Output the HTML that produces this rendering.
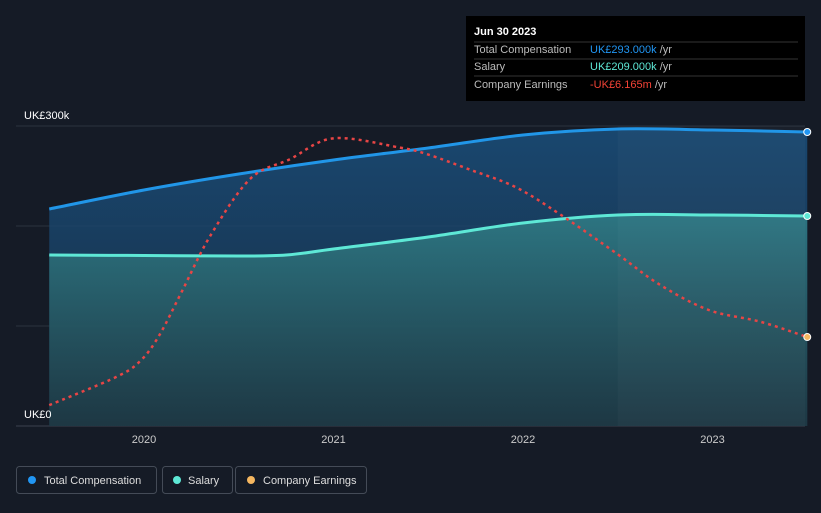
<!DOCTYPE html>
<html><head><meta charset="utf-8"><style>
body{margin:0;background:#151b26;font-family:"Liberation Sans",sans-serif;}
svg text{font-family:"Liberation Sans",sans-serif;}
</style></head><body>
<svg width="821" height="508" viewBox="0 0 821 508">
<defs>
<linearGradient id="gTot" x1="0" y1="0" x2="0" y2="1"><stop offset="0" stop-color="#1a4f7c" stop-opacity="0.85"/><stop offset="1" stop-color="#183552" stop-opacity="0.7"/></linearGradient>
<linearGradient id="gSal" x1="0" y1="0" x2="0" y2="1"><stop offset="0" stop-color="#2f7b85" stop-opacity="0.9"/><stop offset="1" stop-color="#1f3a43" stop-opacity="0.8"/></linearGradient>
</defs>
<rect width="821" height="508" fill="#151b26"/>
<g id="grid"></g>
<g id="areas"></g>
<rect id="hl" y="126" height="300" fill="#ffffff" opacity="0.025"/>
<g id="lines"></g>
<g id="xaxis"></g>
<text x="24" y="119" fill="#ffffff" font-size="11">UK£300k</text>
<text x="24" y="418" fill="#ffffff" font-size="11">UK£0</text>
<g>
<rect x="466" y="16" width="339" height="85" fill="#000000"/>
<text x="474" y="35" fill="#fff" font-size="11" font-weight="bold">Jun 30 2023</text>
<line x1="474" x2="798" y1="42" y2="42" stroke="#333"/>
<text x="474" y="53" fill="#bbb" font-size="11">Total Compensation</text>
<text x="590" y="53" font-size="11" fill="#2196f3">UK£293.000k <tspan fill="#bbb">/yr</tspan></text>
<line x1="474" x2="798" y1="59" y2="59" stroke="#333"/>
<text x="474" y="70" fill="#bbb" font-size="11">Salary</text>
<text x="590" y="70" font-size="11" fill="#5ee8d6">UK£209.000k <tspan fill="#bbb">/yr</tspan></text>
<line x1="474" x2="798" y1="76" y2="76" stroke="#333"/>
<text x="474" y="88" fill="#bbb" font-size="11">Company Earnings</text>
<text x="590" y="88" font-size="11" fill="#f44336">-UK£6.165m <tspan fill="#bbb">/yr</tspan></text>
</g>
<g>
<g><rect x="16.5" y="466.5" width="140" height="27" rx="3" fill="none" stroke="#444b57"/><circle cx="32" cy="480" r="4" fill="#2196f3"/><text x="44" y="484" fill="#ddd" font-size="11">Total Compensation</text></g>
<g><rect x="162.5" y="466.5" width="70" height="27" rx="3" fill="none" stroke="#444b57"/><circle cx="177" cy="480" r="4" fill="#5ee8d6"/><text x="188" y="484" fill="#ddd" font-size="11">Salary</text></g>
<g><rect x="235.5" y="466.5" width="131" height="27" rx="3" fill="none" stroke="#444b57"/><circle cx="251" cy="480" r="4" fill="#f5b760"/><text x="263" y="484" fill="#ddd" font-size="11">Company Earnings</text></g>
</g>
</svg>
<script>
const totalDates=[2019.5,2020,2020.5,2021,2021.5,2022,2022.5,2023,2023.5];
const totalValues=[217,236,252,266,278,291,297,296,294];
const salaryDates=[2019.5,2020,2020.5,2020.75,2021,2021.5,2022,2022.5,2023,2023.5];
const salaryValues=[171,170.5,170,171,177,189,203,211,211,210];
const earnDates=[2019.5,2019.85,2019.98,2020.08,2020.2,2020.35,2020.56,2020.77,2021,2021.35,2021.5,2021.72,2021.96,2022.2,2022.5,2022.72,2022.98,2023.25,2023.5];
const earnValues=[-9.1,-7.9,-7.2,-6.1,-4.2,-1.8,0.65,1.5,2.4,2.0,1.7,1.05,0.3,-0.9,-2.6,-3.9,-5.0,-5.5,-6.165];
const xTicks=[2020,2021,2022,2023];
const x=t=>144+(t-2020)*189.5;
const y=v=>426-v;
const ye=v=>426-(v+10)*23.2;
const NS='http://www.w3.org/2000/svg';
function mk(tag,attrs,parent){const e=document.createElementNS(NS,tag);for(const k in attrs)e.setAttribute(k,attrs[k]);parent.appendChild(e);return e;}
const grid=document.getElementById('grid'),areas=document.getElementById('areas'),lines=document.getElementById('lines'),xa=document.getElementById('xaxis');
[0,100,200,300].forEach(v=>{const l=mk('line',{x1:16,x2:805,y1:y(v),y2:y(v),stroke:v===0?'#3a414d':'#2c333f'},grid);

});
const hl=document.getElementById('hl');hl.setAttribute('x',x(2022.5));hl.setAttribute('width',805-x(2022.5));
function smooth(pts){let d='M'+pts[0][0]+','+pts[0][1];for(let i=1;i<pts.length;i++){const p0=pts[i-2]||pts[i-1],p1=pts[i-1],p2=pts[i],p3=pts[i+1]||p2;
d+=` C${p1[0]+(p2[0]-p0[0])/6},${p1[1]+(p2[1]-p0[1])/6} ${p2[0]-(p3[0]-p1[0])/6},${p2[1]-(p3[1]-p1[1])/6} ${p2[0]},${p2[1]}`;}return d;}
const tp=totalDates.map((d,i)=>[x(d),y(totalValues[i])]);
const sp=salaryDates.map((d,i)=>[x(d),y(salaryValues[i])]);
const ep=earnDates.map((d,i)=>[x(d),ye(earnValues[i])]);
const base=` L${x(2023.5)},426 L${x(2019.5)},426 Z`;
let a=mk('path',{d:smooth(tp)+base,fill:'url(#gTot)'},areas);


a=mk('path',{d:smooth(sp)+base,fill:'url(#gSal)'},areas);


let l=mk('path',{d:smooth(tp),fill:'none',stroke:'#2196e8','stroke-width':3},lines);


l=mk('path',{d:smooth(sp),fill:'none',stroke:'#5ee8d6','stroke-width':3},lines);


l=mk('path',{d:smooth(ep),fill:'none',stroke:'#e84545','stroke-width':2.5,'stroke-dasharray':'3,4'},lines);


[[tp,'#2196f3','total-end-dot'],[sp,'#5ee8d6','salary-end-dot'],[ep,'#f5b760','earnings-end-dot']].forEach(([p,c,n])=>{const q=p[p.length-1];
const c1=mk('circle',{cx:q[0],cy:q[1],r:3.5,fill:c,stroke:'#fff','stroke-width':1},lines);

});
xTicks.forEach(t=>{const e=mk('text',{x:x(t),y:443,fill:'#ccc','font-size':11,'text-anchor':'middle'},xa);e.textContent=t;

});
</script>
</body></html>
